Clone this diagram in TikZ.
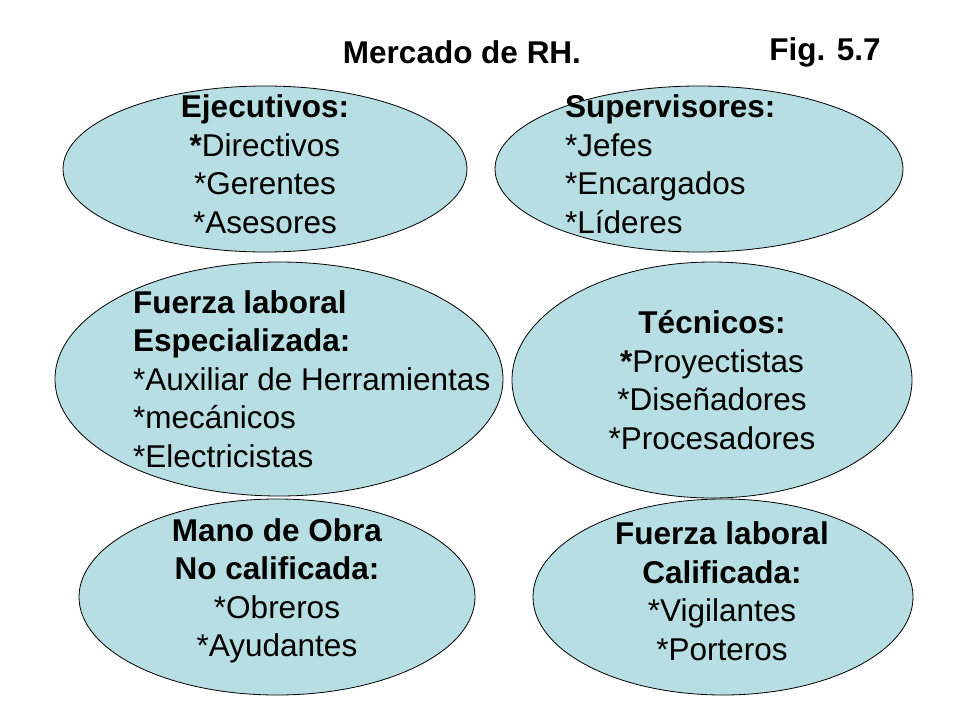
\documentclass[tikz,border=0pt]{standalone}
\usepackage{fontspec}
\setmainfont{Liberation Sans}
\begin{document}
\begin{tikzpicture}[x=1pt,y=-1pt,
  ell/.style={draw=black,line width=0.8pt,fill=ellfill},
  txt/.style={font=\fontsize{31.5}{38.5}\selectfont,inner sep=0pt}]
\definecolor{ellfill}{HTML}{B7DEE2}
\useasboundingbox (0,0) rectangle (960,720);
\draw[ell] (265,169) ellipse [x radius=202,y radius=83];
\draw[ell] (699,169) ellipse [x radius=204,y radius=83];
\draw[ell] (279,379) ellipse [x radius=224,y radius=117];
\draw[ell] (712,380) ellipse [x radius=200,y radius=118];
\draw[ell] (277,597) ellipse [x radius=198,y radius=98];
\draw[ell] (723,597) ellipse [x radius=190,y radius=98];
\node[txt,font=\fontsize{31.5}{36}\selectfont\bfseries] (t1) at (462,52) {Mercado de RH.};
\node[txt,font=\fontsize{31.5}{36}\selectfont\bfseries] (t2) at (825,52) {Fig. 5.7};
\node[txt,align=center] (a) at (265,164) {\textbf{Ejecutivos:}\\\textbf{*}Directivos\\*Gerentes\\*Asesores};
\node[txt,align=left,anchor=west] (b) at (565,164) {\textbf{Supervisores:}\\*Jefes\\*Encargados\\*Líderes};
\node[txt,align=left,anchor=west] (c) at (133,379) {\textbf{Fuerza laboral}\\\textbf{Especializada:}\\*Auxiliar de Herramientas\\*mecánicos\\*Electricistas};
\node[txt,align=center] (d) at (712,380) {\textbf{Técnicos:}\\\textbf{*}Proyectistas\\*Diseñadores\\*Procesadores};
\node[txt,align=center] (e) at (277,591) {\textbf{Mano de Obra}\\\textbf{No calificada:}\\*Obreros\\*Ayudantes};
\node[txt,align=center] (f) at (722,591) {\textbf{Fuerza laboral}\\\textbf{Calificada:}\\*Vigilantes\\*Porteros};
\end{tikzpicture}
\end{document}
